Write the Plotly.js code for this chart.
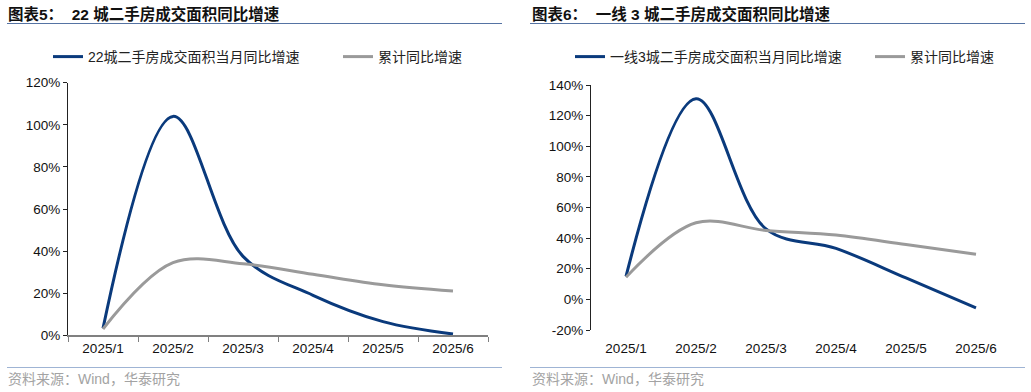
<!DOCTYPE html>
<html>
<head>
<meta charset="utf-8">
<script src="https://cdn.plot.ly/plotly-3.0.1.min.js"></script>
<style>
html,body{margin:0;padding:0;background:#fff;}
#chart{width:1031px;height:392px;}
</style>
</head>
<body>
<div id="chart"></div>
<script>
// ---- data ----
const months = ['2025/1','2025/2','2025/3','2025/4','2025/5','2025/6'];
const city22Monthly = [3.3, 104, 37.5, 19, 6.5, 0.6];
const city22Cumulative = [3, 34.5, 34, 29, 24, 21];
const tier1Monthly = [15, 131, 46, 33.3, 14, -5.5];
const tier1Cumulative = [14.5, 50, 45, 42, 35.8, 29.4];
const leftTitle = '图表5：  22 城二手房成交面积同比增速';
const rightTitle = '图表6：  一线 3 城二手房成交面积同比增速';
const leftNames = ['22城二手房成交面积当月同比增速', '累计同比增速'];
const rightNames = ['一线3城二手房成交面积当月同比增速', '累计同比增速'];
const sourceText = '资料来源：Wind，华泰研究';
const leftYTicks = [0, 20, 40, 60, 80, 100, 120];
const rightYTicks = [-20, 0, 20, 40, 60, 80, 100, 120, 140];

// ---- styles ----
const W = 1031, H = 392;
const FONT = 'Liberation Sans, Arial, Noto Sans CJK SC, sans-serif';
const CJK = 'Liberation Sans, Noto Sans CJK SC, sans-serif';
const BLUE = '#0a3a7c';
const GREY = '#9a9a9a';
const px = v => v / W;
const py = v => 1 - v / H;
const pct = arr => arr.map(v => v + '%');

const L = {x0: 68, x1: 488, yTop: 82.7, yBot: 335.3};
const R = {x0: 591, x1: 1011, yTop: 85, yBot: 330};
const rZeroPos = py(R.yBot) + (20 / 160) * (py(R.yTop) - py(R.yBot));

const lineStyle = (c) => ({color: c, width: 3, shape: 'spline', smoothing: 1});

const traces = [
  {x: months, y: city22Monthly, name: leftNames[0], type: 'scatter', mode: 'lines',
   line: lineStyle(BLUE), xaxis: 'x', yaxis: 'y', legend: 'legend'},
  {x: months, y: city22Cumulative, name: leftNames[1], type: 'scatter', mode: 'lines',
   line: lineStyle(GREY), xaxis: 'x', yaxis: 'y', legend: 'legend3'},
  {x: months, y: tier1Monthly, name: rightNames[0], type: 'scatter', mode: 'lines',
   line: lineStyle(BLUE), xaxis: 'x2', yaxis: 'y2', legend: 'legend2'},
  {x: months, y: tier1Cumulative, name: rightNames[1], type: 'scatter', mode: 'lines',
   line: lineStyle(GREY), xaxis: 'x2', yaxis: 'y2', legend: 'legend4'}
];

const tickFont = {family: FONT, size: 13.5, color: '#111'};
const legendStyle = (x) => ({
  orientation: 'h', x: px(x), y: py(41), xanchor: 'left', yanchor: 'top',
  font: {family: CJK, size: 14, color: '#222'}, bgcolor: 'rgba(0,0,0,0)',
  itemclick: false, itemdoubleclick: false
});

const layout = {
  width: W, height: H,
  margin: {l: 0, r: 0, t: 0, b: 0},
  paper_bgcolor: '#fff', plot_bgcolor: 'rgba(0,0,0,0)',
  showlegend: true,
  font: {family: FONT, size: 13.5, color: '#111'},
  xaxis: {
    domain: [px(L.x0), px(L.x1)], anchor: 'y', type: 'category',
    categoryarray: months, range: [-0.5, 5.5],
    showline: true, linecolor: '#808080', linewidth: 1.5,
    ticks: 'outside', ticklen: 5, tickcolor: '#808080', tickwidth: 1,
    tickson: 'boundaries', showgrid: false, zeroline: false,
    tickfont: tickFont, fixedrange: true
  },
  yaxis: {
    domain: [py(L.yBot), py(L.yTop)], anchor: 'x', range: [0, 120],
    tickmode: 'array', tickvals: leftYTicks, ticktext: pct(leftYTicks),
    showline: true, linecolor: '#222', linewidth: 1,
    ticks: 'outside', ticklen: 4, tickcolor: '#222',
    showgrid: false, zeroline: false, tickfont: tickFont, fixedrange: true
  },
  xaxis2: {
    domain: [px(R.x0), px(R.x1)], anchor: 'y2', type: 'category',
    categoryarray: months, range: [-0.5, 5.5],
    showline: false, ticks: 'outside', ticklen: 6, tickcolor: 'rgba(0,0,0,0)',
    showgrid: false, zeroline: false,
    tickfont: tickFont, fixedrange: true
  },
  xaxis3: {
    overlaying: 'x2', anchor: 'free', position: rZeroPos,
    type: 'linear', range: [-0.5, 5.5],
    tickmode: 'array', tickvals: [-0.5, 0.5, 1.5, 2.5, 3.5, 4.5, 5.5],
    showticklabels: false, showline: true, linecolor: '#222', linewidth: 1,
    ticks: 'outside', ticklen: 4, tickcolor: '#222',
    showgrid: false, zeroline: false, fixedrange: true
  },
  yaxis2: {
    domain: [py(R.yBot), py(R.yTop)], anchor: 'x2', range: [-20, 140],
    tickmode: 'array', tickvals: rightYTicks, ticktext: pct(rightYTicks),
    showline: true, linecolor: '#222', linewidth: 1,
    ticks: 'outside', ticklen: 4, tickcolor: '#222',
    showgrid: false, zeroline: false, tickfont: tickFont, fixedrange: true
  },
  legend: legendStyle(48),
  legend3: legendStyle(338),
  legend2: legendStyle(570),
  legend4: legendStyle(870),
  annotations: [
    {text: '<b>' + leftTitle + '</b>', xref: 'paper', yref: 'paper', x: px(6), y: py(14),
     xanchor: 'left', yanchor: 'middle', showarrow: false,
     font: {family: CJK, size: 15.5, color: '#111'}},
    {text: '<b>' + rightTitle + '</b>', xref: 'paper', yref: 'paper', x: px(530), y: py(14),
     xanchor: 'left', yanchor: 'middle', showarrow: false,
     font: {family: CJK, size: 15.5, color: '#111'}},
    {text: sourceText, xref: 'paper', yref: 'paper', x: px(6), y: py(379),
     xanchor: 'left', yanchor: 'middle', showarrow: false,
     font: {family: CJK, size: 14, color: '#a3a3a3'}},
    {text: sourceText, xref: 'paper', yref: 'paper', x: px(530), y: py(379),
     xanchor: 'left', yanchor: 'middle', showarrow: false,
     font: {family: CJK, size: 14, color: '#a3a3a3'}}
  ],
  shapes: [
    {type: 'line', xref: 'paper', yref: 'paper', x0: px(7), x1: px(502), y0: py(23.5), y1: py(23.5),
     line: {color: '#5573a3', width: 1.2}},
    {type: 'line', xref: 'paper', yref: 'paper', x0: px(530), x1: px(1025), y0: py(23.5), y1: py(23.5),
     line: {color: '#5573a3', width: 1.2}},
    {type: 'line', xref: 'paper', yref: 'paper', x0: px(7), x1: px(502), y0: py(367.5), y1: py(367.5),
     line: {color: '#9fb4d4', width: 1.2}},
    {type: 'line', xref: 'paper', yref: 'paper', x0: px(530), x1: px(1025), y0: py(367.5), y1: py(367.5),
     line: {color: '#9fb4d4', width: 1.2}}
  ]
};

Plotly.newPlot('chart', traces, layout, {displayModeBar: false, staticPlot: true});
</script>
</body>
</html>
